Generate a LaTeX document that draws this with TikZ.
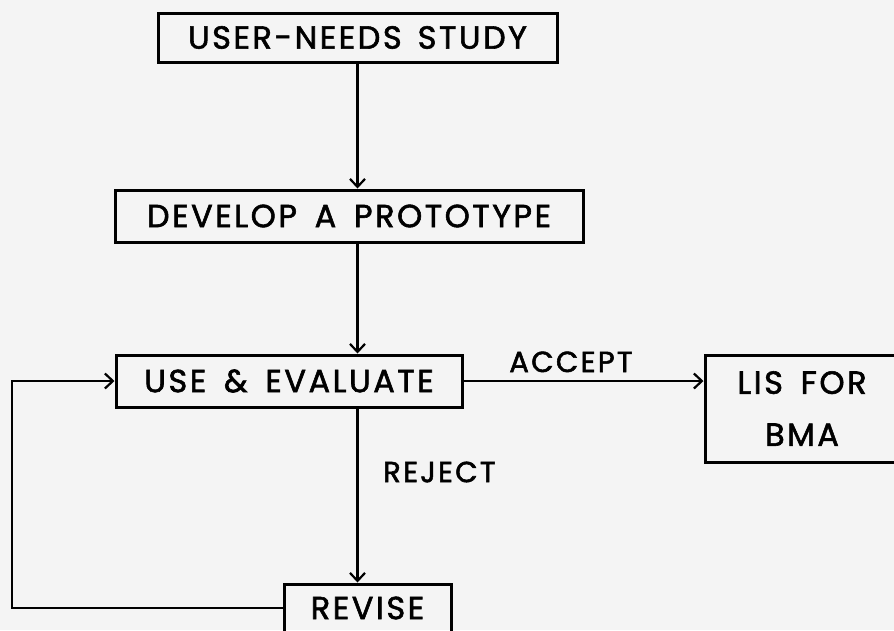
\documentclass[tikz,border=0pt]{standalone}
\usepackage{fontspec}
\setmainfont{Poppins}[LetterSpace=8,FakeBold=1.8,WordSpace=1.6]
\usetikzlibrary{arrows.meta}
\begin{document}
\begin{tikzpicture}[x=1pt,y=-1pt,
  box/.style={draw, line width=3pt, inner sep=0pt, font=\fontsize{32}{40}\selectfont},
  conn/.style={line width=2.4pt},
  arr/.style={conn, -{Straight Barb[length=8pt,width=15pt,line width=2.2pt]}},
  lbl/.style={font=\fontsize{29}{34}\selectfont, inner sep=0pt}]
\fill[gray!9] (0,0) rectangle (894,630);
\useasboundingbox (0,0) rectangle (894,630);
\clip (0,0) rectangle (894,630);
\node[box, minimum width=399pt, minimum height=49pt] (uns) at (357.5,37.5) {USER-NEEDS\hspace{0.5em}STUDY};
\node[box, minimum width=468pt, minimum height=52pt] (dev) at (349,216) {DEVELOP A PROTOTYPE};
\node[box, minimum width=346pt, minimum height=52pt] (use) at (289,381) {USE \& EVALUATE};
\node[box, minimum width=194pt, minimum height=107pt, align=center] (lis) at (802,408.5) {LIS FOR\\[12pt]BMA};
\node[box, minimum width=167pt, minimum height=48pt] (rev) at (367.5,608) {REVISE};
\coordinate (lp) at (12,381);
\draw[arr] (uns.south) -- (uns.south |- dev.north);
\draw[arr] (dev.south -| uns.south) -- (uns.south |- use.north);
\draw[arr] (use.south -| uns.south) -- (uns.south |- rev.north)
  node[lbl, anchor=west] at (382,472) {REJECT};
\draw[arr] (use.east) -- (use.east -| lis.west)
  node[lbl, anchor=base] at (571,372) {ACCEPT};
\draw[arr] (rev.west) -| (lp) -- (use.west);
\end{tikzpicture}
\end{document}
